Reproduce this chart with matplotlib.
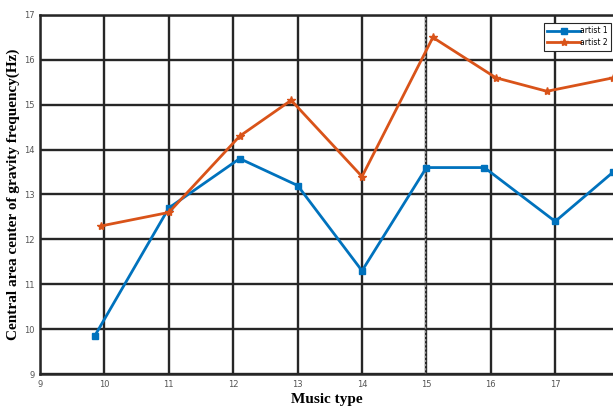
import matplotlib
matplotlib.use("Agg")
import matplotlib.pyplot as plt
import matplotlib.transforms as mtransforms
import numpy as np

# dados das duas séries
x_artist1 = [9.85, 11.0, 12.1, 13.0, 14.0, 15.0, 15.9, 17.0, 17.9]
y_artist1 = [9.85, 12.7, 13.8, 13.2, 11.3, 13.6, 13.6, 12.4, 13.5]

x_artist2 = [9.95, 11.0, 12.1, 12.9, 14.0, 15.1, 16.08, 16.87, 17.9]
y_artist2 = [12.3, 12.6, 14.3, 15.1, 13.4, 16.5, 15.6, 15.3, 15.6]

xticks = np.arange(9, 18)
yticks = np.arange(9, 18)

fig = plt.figure(figsize=(6.13, 4.08), dpi=100)
ax = fig.add_axes([0.0653, 0.0833, 0.935, 0.88])

# grade
for xt in xticks:
    ax.axvline(xt, color="#262626", lw=1.7, zorder=0)
for yt in yticks:
    ax.axhline(yt, color="#262626", lw=1.7, zorder=0)

# linha pontilhada cinza colada à grade em x=15
desloc = mtransforms.offset_copy(ax.get_xaxis_transform(), fig=fig, x=-1.6, units="dots")
ax.plot([15, 15], [0, 1], transform=desloc, color="#9a9a9a", lw=1.0,
        ls=(0, (1.5, 1.5)), zorder=0)

ax.plot(x_artist1, y_artist1, color="#0072BD", lw=2.0, marker="s", ms=5,
        label="artist 1", clip_on=False)
ax.plot(x_artist2, y_artist2, color="#D95319", lw=2.0, marker="*", ms=6,
        label="artist 2", clip_on=False)

ax.set_xlim(9, 17.9)
ax.set_ylim(9, 17)
ax.set_xticks(xticks)
ax.set_yticks(yticks)
ax.tick_params(length=0, labelsize=6, labelcolor="#555555", pad=4)

for s in ["left", "bottom", "top"]:
    ax.spines[s].set_linewidth(1.8)
    ax.spines[s].set_color("#262626")
ax.spines["right"].set_visible(False)

ax.set_xlabel("Music type", fontsize=11, fontweight="bold", family="Liberation Serif", labelpad=3)
ax.set_ylabel("Central area center of gravity frequency(Hz)", fontsize=11,
              fontweight="bold", family="Liberation Serif", labelpad=3)

leg = ax.legend(loc="upper right", bbox_to_anchor=(0.9995, 0.982), fontsize=5.5,
                handlelength=4.2, frameon=True, fancybox=False, borderpad=0.45,
                labelspacing=0.35, handletextpad=0.1, borderaxespad=0.2)
leg.get_frame().set_edgecolor("#262626")
leg.get_frame().set_linewidth(0.8)
leg.get_frame().set_alpha(1)

fig.savefig("out.png", dpi=100)
